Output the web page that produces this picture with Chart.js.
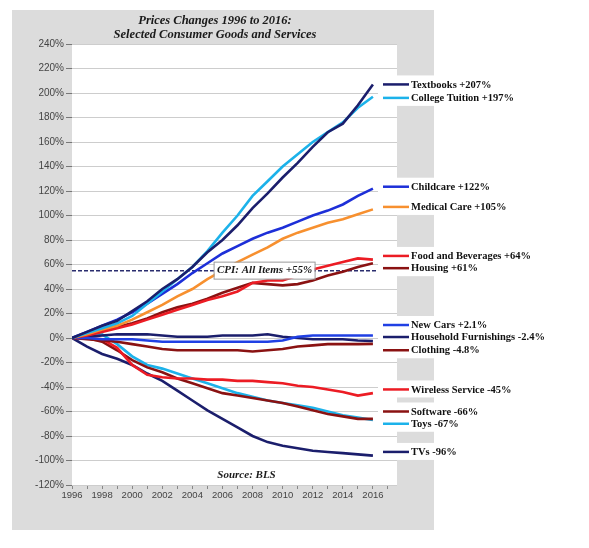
<!DOCTYPE html>
<html>
<head>
<meta charset="utf-8">
<script src="https://cdn.jsdelivr.net/npm/chart.js@4/dist/chart.umd.min.js"></script>
<style>
  body { margin: 0; background: #fff; }
  canvas { display: block; }
</style>
</head>
<body>
<canvas id="pricesChart" width="589" height="548"></canvas>
<script>
// Datos (lectura aproximada de la gráfica), % de cambio desde 1996
const years = [1996, 1997, 1998, 1999, 2000, 2001, 2002, 2003, 2004, 2005, 2006, 2007, 2008, 2009, 2010, 2011, 2012, 2013, 2014, 2015, 2016];
const xTickYears = [1996, 1998, 2000, 2002, 2004, 2006, 2008, 2010, 2012, 2014, 2016];
const yTicks = [240, 220, 200, 180, 160, 140, 120, 100, 80, 60, 40, 20, 0, -20, -40, -60, -80, -100, -120];

const textbooks      = [0, 5, 10, 14, 22, 30, 40, 48, 58, 70, 80, 92, 106, 118, 131, 143, 156, 168, 175, 190, 207];
const collegeTuition = [0, 4, 8, 12, 18, 28, 38, 48, 58, 71, 86, 100, 116, 128, 140, 150, 160, 168, 176, 188, 197];
const childcare      = [0, 5, 10, 15, 21, 28, 36, 44, 53, 61, 69, 75, 81, 86, 90, 95, 100, 104, 109, 116, 122];
const medicalCare    = [0, 3, 7, 10, 15, 21, 27, 34, 40, 48, 55, 62, 68, 74, 81, 86, 90, 94, 97, 101, 105];
const foodBeverages  = [0, 2, 5, 8, 11, 15, 19, 23, 27, 31, 34, 38, 45, 47, 47, 51, 56, 59, 62, 65, 64];
const housing        = [0, 3, 6, 9, 12, 16, 21, 25, 28, 32, 37, 41, 45, 44, 43, 44, 47, 51, 54, 58, 61];
const newCars        = [0, 0, -1, -1, -1, -2, -3, -3, -3, -3, -3, -3, -3, -3, -2, 1, 2, 2, 2, 2, 2.1];
const furnishings    = [0, 1, 2, 3, 3, 3, 2, 1, 1, 1, 2, 2, 2, 3, 1, 0, -1, -1, -1, -2, -2.4];
const clothing       = [0, -1, -2, -3, -5, -7, -9, -10, -10, -10, -10, -10, -11, -10, -9, -7, -6, -5, -5, -5, -4.8];
const wireless       = [0, 0, -1, -8, -22, -30, -32, -33, -33, -34, -34, -35, -35, -36, -37, -39, -40, -42, -44, -47, -45];
const software       = [0, 0, -3, -10, -18, -24, -28, -33, -37, -41, -45, -47, -49, -51, -53, -56, -59, -62, -64, -66, -66];
const toys           = [0, 2, 3, -5, -15, -22, -25, -29, -33, -37, -41, -45, -48, -51, -53, -55, -57, -60, -63, -65, -67];
const tvs            = [0, -7, -13, -17, -22, -29, -35, -43, -51, -59, -66, -73, -80, -85, -88, -90, -92, -93, -94, -95, -96];
const cpiAllItems = 55;

const seriesValues = [textbooks, collegeTuition, childcare, medicalCare, foodBeverages, housing,
  newCars, furnishings, clothing, wireless, software, toys, tvs];
const seriesLabels = ['Textbooks +207%', 'College Tuition +197%', 'Childcare +122%', 'Medical Care +105%',
  'Food and Beverages +64%', 'Housing +61%', 'New Cars +2.1%', 'Household Furnishings -2.4%',
  'Clothing -4.8%', 'Wireless Service -45%', 'Software -66%', 'Toys -67%', 'TVs -96%'];
const titleLines = ['Prices Changes 1996 to 2016:', 'Selected Consumer Goods and Services'];
const cpiLabel = 'CPI: All Items +55%';
const sourceLabel = 'Source: BLS';

// estilos y posiciones de las etiquetas
const navy = '#1b1e6c', sky = '#1cb2ea', blue = '#1d2fd8', orange = '#f7902f', red = '#ec1c24', maroon = '#8a1212';
const seriesColors = [navy, sky, blue, orange, red, maroon, '#2040e4', navy, maroon, red, maroon, sky, navy];
const labelAt = [207, 196, 123.5, 107, 67, 57, 10.6, 0.8, -10, -42, -60, -70, -93];
const labelGroups = [[0, 1], [2, 3], [4, 5], [6, 7, 8], [9], [10, 11], [12]];

const datasets = seriesValues.map((vals, i) => ({
  label: seriesLabels[i],
  data: years.map((yr, j) => ({ x: yr, y: vals[j] })),
  borderColor: seriesColors[i],
  borderWidth: 2.6,
  pointRadius: 0,
  tension: 0,
  fill: false,
}));

// línea del IPC
datasets.push({
  label: cpiLabel,
  data: [{ x: 1996, y: cpiAllItems }, { x: 2016.8, y: cpiAllItems }],
  borderColor: '#2a2d6e',
  borderWidth: 1.5,
  borderDash: [4, 2],
  pointRadius: 0,
  fill: false,
});

const decorations = {
  id: 'decorations',
  beforeDraw(chart) {
    const { ctx, chartArea: a } = chart;
    ctx.save();
    ctx.fillStyle = '#fff';
    ctx.fillRect(0, 0, chart.width, chart.height);
    ctx.fillStyle = '#dcdcdc';
    ctx.fillRect(12, 10, 422, 520);
    ctx.fillStyle = '#fff';
    ctx.fillRect(a.left, a.top, a.right - a.left, a.bottom - a.top);
    ctx.fillStyle = '#1a1a1a';
    ctx.font = 'bold italic 12.5px "Liberation Serif"';
    ctx.textAlign = 'center';
    ctx.textBaseline = 'middle';
    ctx.fillText(titleLines[0], 215, 21);
    ctx.fillText(titleLines[1], 215, 35);
    ctx.restore();
  },
  afterDatasetsDraw(chart) {
    const { ctx } = chart;
    const xs = chart.scales.x, ys = chart.scales.y;
    ctx.save();

    // caja del IPC
    const cx = xs.getPixelForValue(2008.8), cy = ys.getPixelForValue(cpiAllItems);
    ctx.fillStyle = '#fff';
    ctx.strokeStyle = '#9a9a9a';
    ctx.lineWidth = 1;
    ctx.fillRect(cx - 50, cy - 8, 100, 16);
    ctx.strokeRect(cx - 50.5, cy - 8.5, 101, 17);
    ctx.fillStyle = '#1a1a1a';
    ctx.font = 'bold italic 11px "Liberation Serif"';
    ctx.textAlign = 'center';
    ctx.textBaseline = 'middle';
    ctx.fillText(cpiLabel, cx, cy);

    // fuente
    ctx.fillText(sourceLabel, xs.getPixelForValue(2007.6), ys.getPixelForValue(-112));

    // etiquetas a la derecha
    labelGroups.forEach(g => {
      const top = ys.getPixelForValue(labelAt[g[0]]) - 9;
      const bottom = ys.getPixelForValue(labelAt[g[g.length - 1]]) + 8;
      ctx.fillStyle = '#fff';
      ctx.fillRect(378, top, 170, bottom - top);
    });
    ctx.font = 'bold 10.5px "Liberation Serif"';
    ctx.textAlign = 'left';
    seriesLabels.forEach((txt, i) => {
      const y = ys.getPixelForValue(labelAt[i]);
      ctx.strokeStyle = seriesColors[i];
      ctx.lineWidth = 2.5;
      ctx.beginPath();
      ctx.moveTo(383, y);
      ctx.lineTo(409, y);
      ctx.stroke();
      ctx.fillStyle = '#111';
      ctx.fillText(txt, 411, y + 0.5);
    });
    ctx.restore();
  },
};

const ctx = document.getElementById('pricesChart').getContext('2d');
new Chart(ctx, {
  type: 'line',
  data: { datasets },
  options: {
    responsive: false,
    animation: false,
    devicePixelRatio: 1,
    layout: { padding: { left: 12, right: 192, top: 44, bottom: 43 } },
    plugins: {
      legend: { display: false },
      title: { display: false },
      tooltip: { enabled: false },
    },
    scales: {
      x: {
        type: 'linear',
        min: 1996,
        max: 2017.6,
        afterFit: s => { s.height = 20; },
        afterBuildTicks: s => {
          s.ticks = [];
          for (let yr = 1996; yr <= 2017; yr++) s.ticks.push({ value: yr });
        },
        ticks: {
          autoSkip: false,
          maxRotation: 0,
          padding: 1,
          color: '#444',
          font: { family: '"Liberation Sans", Arial', size: 9.5 },
          callback: v => (xTickYears.includes(v) ? String(v) : ''),
        },
        grid: { drawOnChartArea: false, tickLength: 4, color: '#888' },
        border: { display: false },
      },
      y: {
        min: -120,
        max: 240,
        afterFit: s => { s.width = 60; },
        afterBuildTicks: s => { s.ticks = yTicks.map(v => ({ value: v })); },
        ticks: {
          padding: 2,
          color: '#444',
          font: { family: '"Liberation Sans", Arial', size: 10 },
          callback: v => v + '%',
        },
        grid: { color: '#cdcdcd', tickLength: 6, tickColor: '#777' },
        border: { display: false },
      },
    },
  },
  plugins: [decorations],
});
</script>
</body>
</html>
